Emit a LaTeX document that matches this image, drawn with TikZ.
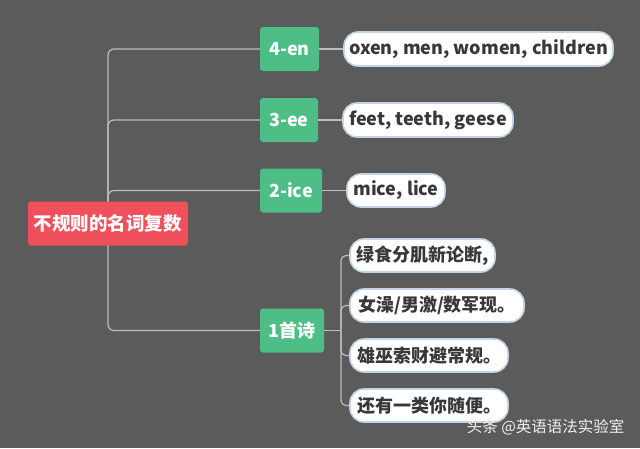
\documentclass[tikz,border=0pt]{standalone}
\usepackage{fontspec}
\newfontfamily\cjk{Noto Sans CJK SC}
\usetikzlibrary{backgrounds,shadows}
\definecolor{bgc}{HTML}{5B5B5B}
\definecolor{rootc}{HTML}{F0505C}
\definecolor{greenc}{HTML}{4CBE86}
\definecolor{linec}{HTML}{BDBDBD}
\definecolor{leafb}{HTML}{C4D4E4}
\definecolor{txt}{HTML}{383838}
\tikzset{
  rootbox/.style={fill=rootc, rounded corners=3pt, text=white, font=\cjk\bfseries\fontsize{18.5}{21}\selectfont, inner sep=0pt, minimum height=44pt},
  greenbox/.style={fill=greenc, rounded corners=3pt, text=white, font=\cjk\bfseries\fontsize{18}{21}\selectfont, inner sep=0pt, minimum height=44pt},
  leafbox/.style={fill=white, draw=leafb, line width=1.6pt, rounded corners=14pt, text=txt, font=\cjk\bfseries\fontsize{18}{21}\selectfont, inner sep=0pt, minimum height=33pt},
  conn/.style={draw=linec, line width=1.2pt},
}
\begin{document}
\begin{tikzpicture}[x=1pt,y=-1pt]
\useasboundingbox (0,0) rectangle (640,448);
% nodes
\node[rootbox, minimum width=160pt] (root) at (108,223.5) {不规则的名词复数};
\node[greenbox, minimum width=59pt] (n4) at (289.5,49) {4-en};
\node[greenbox, minimum width=58pt] (n3) at (289,120) {3-ee};
\node[greenbox, minimum width=62pt] (n2) at (291,190.5) {2-ice};
\node[greenbox, minimum width=64pt] (n1) at (292,330.5) {1首诗};
\node[leafbox, minimum width=269pt, minimum height=34pt] (o4) at (478.5,49) {oxen, men, women, children};
\node[leafbox, minimum width=170pt, minimum height=34pt] (o3) at (428,120) {feet, teeth, geese};
\node[leafbox, minimum width=98pt] (o2) at (396,190.5) {mice, lice};
\node[leafbox, minimum width=145pt] (p1) at (422.5,255.5) {绿食分肌新论断,};
\node[leafbox, minimum width=174pt] (p2) at (437,305.5) {女澡/男激/数军现。};
\node[leafbox, minimum width=158pt] (p3) at (429,355.5) {雄巫索财避常规。};
\node[leafbox, minimum width=158pt] (p4) at (429,405.5) {还有一类你随便。};
\coordinate (j1) at (341,330.5);
\node[text=white!94!black, font=\cjk\fontsize{15.5}{18}\selectfont, anchor=east] (wm) at (628,427) {头条 @英语语法实验室};
% connectors and background
\begin{scope}[on background layer]
\fill[bgc] (0,0) rectangle (640,448);
\draw[conn, rounded corners=6pt] (root.center) |- (n4.west);
\draw[conn, rounded corners=6pt] (root.center) |- (n3.west);
\draw[conn, rounded corners=6pt] (root.center) |- (n2.west);
\draw[conn, rounded corners=6pt] (root.center) |- (n1.west);
\draw[conn] (n4.east) -- (o4.west);
\draw[conn] (n3.east) -- (o3.west);
\draw[conn] (n2.east) -- (o2.west);
\draw[conn] (n1.east) -- (j1);
\draw[conn, rounded corners=5pt] (j1) |- (p1.west);
\draw[conn, rounded corners=5pt] (j1) |- (p2.west);
\draw[conn, rounded corners=5pt] (j1) |- (p3.west);
\draw[conn, rounded corners=5pt] (j1) |- (p4.west);
\end{scope}
\end{tikzpicture}
\end{document}
